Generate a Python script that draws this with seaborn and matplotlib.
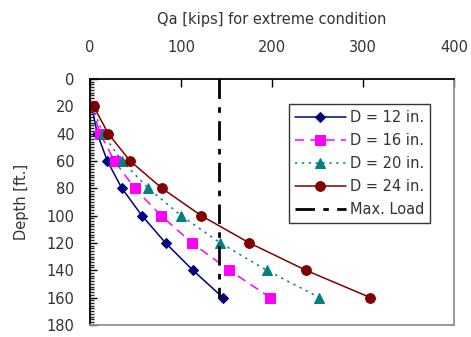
import numpy as np
import pandas as pd
import matplotlib
matplotlib.use("Agg")
import matplotlib.pyplot as plt
from matplotlib.ticker import MultipleLocator
import seaborn as sns

# Pile capacity vs. depth for several pile diameters
depth = [20, 40, 60, 80, 100, 120, 140, 160]
qa_d12 = [2, 8, 19, 35, 57, 83, 113, 146]
qa_d16 = [2, 11, 27, 49, 78, 112, 153, 198]
qa_d20 = [3, 14, 35, 64, 100, 143, 194, 252]
qa_d24 = [4, 20, 44, 79, 122, 175, 237, 308]
max_load_x = [142, 142]
max_load_depth = [0, 160]

labels = ["D = 12 in.", "D = 16 in.", "D = 20 in.", "D = 24 in."]
colors = ["#000080", "#FF00FF", "#008080", "#800000"]
markers = ["D", "s", "^", "o"]
msizes = [5, 6.5, 6.5, 7]
lstyles = ["-", (0, (6, 4)), (0, (1.5, 3)), "-"]

sns.set_style("white")
plt.rcParams["font.family"] = ["DejaVu Sans"]
text_color = "#333333"

fig = plt.figure(figsize=(4.71, 3.37), dpi=100)
ax = fig.add_axes([0.191, 0.036, 0.773, 0.73])

for vals, lab, c, m, ms, ls in zip([qa_d12, qa_d16, qa_d20, qa_d24],
                                   labels, colors, markers, msizes, lstyles):
    df = pd.DataFrame({"Qa": vals, "Depth": depth})
    sns.lineplot(data=df, x="Qa", y="Depth", sort=False, estimator=None,
                 color=c, marker=m, markersize=ms, markeredgecolor=c,
                 linestyle=ls, linewidth=1.1, label=lab, ax=ax)

df_max = pd.DataFrame({"Qa": max_load_x, "Depth": max_load_depth})
sns.lineplot(data=df_max, x="Qa", y="Depth", sort=False, estimator=None,
             color="black", linestyle=(0, (7, 3, 2, 3)), linewidth=2,
             label="Max. Load", ax=ax)

ax.set_xlim(0, 400)
ax.set_ylim(180, 0)
ax.xaxis.set_major_locator(MultipleLocator(100))
ax.yaxis.set_major_locator(MultipleLocator(20))
ax.yaxis.set_minor_locator(MultipleLocator(2))
ax.xaxis.tick_top()
ax.xaxis.set_label_position("top")
ax.tick_params(axis="x", which="major", direction="in", length=6, width=1,
               labelsize=10.5, pad=17, color="black", labelcolor=text_color)
ax.tick_params(axis="y", which="major", direction="in", length=5, width=1,
               labelsize=10.5, pad=11, color="black", labelcolor=text_color)
ax.tick_params(axis="y", which="minor", direction="in", length=3, width=1,
               left=True)
ax.tick_params(axis="y", which="both", left=True)
ax.tick_params(axis="x", which="both", top=True, bottom=False)

ax.set_xlabel("Qa [kips] for extreme condition", fontsize=10.5,
              labelpad=12, color=text_color)
ax.set_ylabel("Depth [ft.]", fontsize=10.5, labelpad=13, color=text_color)

for side in ["left", "top"]:
    ax.spines[side].set_color("black")
    ax.spines[side].set_linewidth(1.3)
for side in ["right", "bottom"]:
    ax.spines[side].set_color("#909090")
    ax.spines[side].set_linewidth(1.3)

leg = ax.legend(loc="upper left", bbox_to_anchor=(0.546, 0.898),
                fontsize=10.5, frameon=True, fancybox=False, handlelength=3.5,
                handletextpad=0.3, borderpad=0.4, labelspacing=0.55,
                borderaxespad=0, labelcolor=text_color)
leg.get_frame().set_edgecolor("black")
leg.get_frame().set_linewidth(1)

fig.savefig("out.png", dpi=100)
